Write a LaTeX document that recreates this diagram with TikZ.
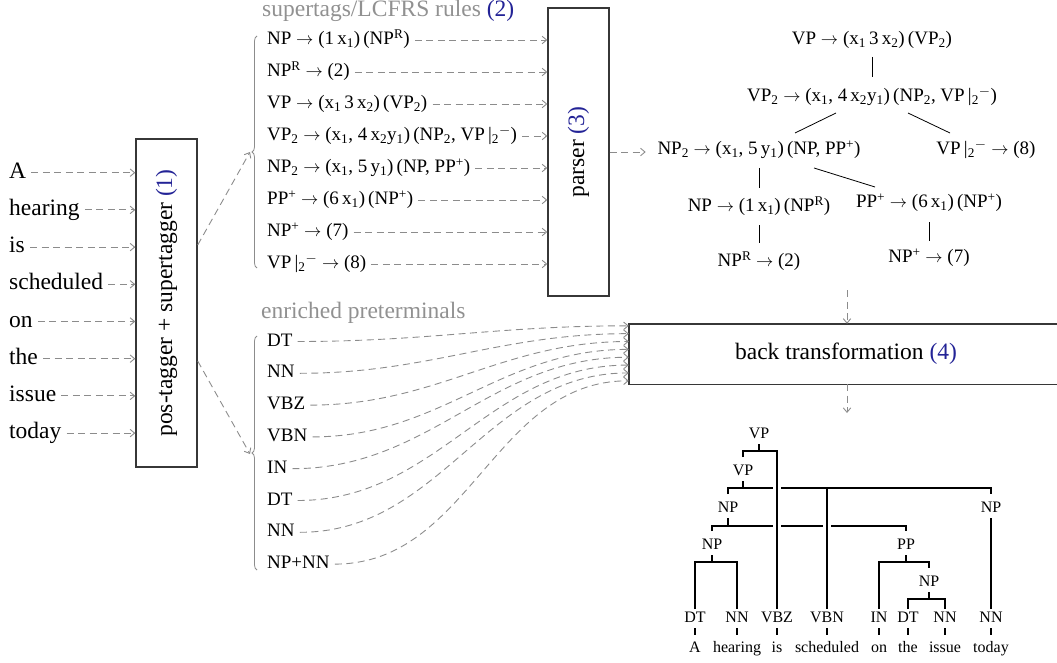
\documentclass[tikz,border=0pt]{standalone}
\usepackage{fontspec}
\usepackage{graphicx}
\setmainfont{Liberation Serif}
\usetikzlibrary{arrows.meta,calc,decorations.pathreplacing}

\definecolor{arrowgray}{RGB}{140,140,140}
\definecolor{headgray}{RGB}{145,145,145}
\definecolor{stepblue}{RGB}{35,35,150}
\definecolor{boxline}{RGB}{55,55,55}

\newcommand\lsub[1]{\textsubscript{#1}}
\newcommand\lsup[1]{\textsuperscript{#1}}
\newcommand\vpbar{VP\,|\lsub{2}\lsup{$-$}}

\begin{document}
\begin{tikzpicture}[x=1pt,y=-1pt,
  big/.style={font=\fontsize{23.5}{28}\selectfont},
  wordnode/.style={big, inner sep=0pt, anchor=west, text height=16pt, text depth=5pt},
  rule/.style={font=\fontsize{19}{23}\selectfont, inner sep=0pt, anchor=west, text height=13pt, text depth=4pt},
  drule/.style={font=\fontsize{19}{23}\selectfont, inner sep=0pt, text height=13pt, text depth=4pt},
  heading/.style={big, text=headgray, inner sep=0pt, anchor=west},
  stagebox/.style={draw=boxline, line width=1.4pt, inner sep=0pt, big},
  boxedge/.style={draw=boxline, line width=1.4pt},
  dasharrow/.style={draw=arrowgray, line width=0.9pt, dash pattern=on 7pt off 4.5pt,
    -{Straight Barb[length=4.5pt,width=7.5pt]}},
  bracedeco/.style={draw=arrowgray, line width=0.8pt, decorate, decoration={brace, amplitude=5pt}},
  derivline/.style={line width=0.8pt},
  tnode/.style={font=\fontsize{16}{19}\selectfont, inner sep=0pt, text height=10.8pt, text depth=0pt},
  tline/.style={line width=1.2pt},
]
\useasboundingbox (0,0) rectangle (1057,663);

% ---------- input sentence and tagger ----------
\foreach \w [count=\i] in {A,hearing,is,scheduled,on,the,issue,today}
  \node[wordnode] (w\i) at (9,{172.7+37.2*(\i-1)}) {\w};

\node[stagebox, minimum width=61pt, minimum height=328pt] (pos) at (166.5,303)
  {\rotatebox{90}{pos-tagger + supertagger \textcolor{stepblue}{(1)}}};

\foreach \i in {1,...,8}
  \draw[dasharrow] ([xshift=5pt]w\i.east) -- (w\i.east -| pos.west);

% ---------- supertags ----------
\node[heading] (h1) at (262,11) {supertags/LCFRS rules \textcolor{stepblue}{(2)}};

\node[rule] (r1) at (267,40)  {NP $\to$ (1\,x\lsub{1})\,(NP\lsup{R})};
\node[rule] (r2) at (267,72)  {NP\lsup{R} $\to$ (2)};
\node[rule] (r3) at (267,104) {VP $\to$ (x\lsub{1}\,3\,x\lsub{2})\,(VP\lsub{2})};
\node[rule] (r4) at (267,136) {VP\lsub{2} $\to$ (x\lsub{1}, 4\,x\lsub{2}y\lsub{1})\,(NP\lsub{2}, \vpbar)};
\node[rule] (r5) at (267,168) {NP\lsub{2} $\to$ (x\lsub{1}, 5\,y\lsub{1})\,(NP, PP\lsup{+})};
\node[rule] (r6) at (267,200) {PP\lsup{+} $\to$ (6\,x\lsub{1})\,(NP\lsup{+})};
\node[rule] (r7) at (267,232) {NP\lsup{+} $\to$ (7)};
\node[rule] (r8) at (267,264) {\vpbar{} $\to$ (8)};

\draw[bracedeco] (257,268) -- (257,36);
\coordinate (tip1) at (250,152);
\draw[dasharrow] ($(pos.east)+(0,-58)$) -- (tip1);

% ---------- parser ----------
\node[stagebox, minimum width=61pt, minimum height=288pt] (parser) at (578.5,152)
  {\rotatebox{90}{parser \textcolor{stepblue}{(3)}}};

\foreach \i in {1,...,8}
  \draw[dasharrow] ([xshift=5pt]r\i.east) -- (r\i.east -| parser.west);

% ---------- derivation ----------
\node[drule] (d1) at (872,40)  {VP $\to$ (x\lsub{1}\,3\,x\lsub{2})\,(VP\lsub{2})};
\node[drule] (d2) at (872,97)  {VP\lsub{2} $\to$ (x\lsub{1}, 4\,x\lsub{2}y\lsub{1})\,(NP\lsub{2}, \vpbar)};
\node[drule] (d3) at (759,150) {NP\lsub{2} $\to$ (x\lsub{1}, 5\,y\lsub{1})\,(NP, PP\lsup{+})};
\node[drule] (d4) at (986,150) {\vpbar{} $\to$ (8)};
\node[drule] (d5) at (759,207) {NP $\to$ (1\,x\lsub{1})\,(NP\lsup{R})};
\node[drule] (d6) at (929,203) {PP\lsup{+} $\to$ (6\,x\lsub{1})\,(NP\lsup{+})};
\node[drule] (d7) at (759,262) {NP\lsup{R} $\to$ (2)};
\node[drule] (d8) at (929,258) {NP\lsup{+} $\to$ (7)};

\draw[derivline] ($(d1)+(0,17)$) -- ($(d2)+(0,-20)$);
\draw[derivline] ($(d2)+(-36,16)$) -- ($(d3)+(36,-17)$);
\draw[derivline] ($(d2)+(36,16)$) -- ($(d4)+(-36,-17)$);
\draw[derivline] ($(d3)+(0,18)$) -- ($(d5)+(0,-19)$);
\draw[derivline] ($(d3)+(55,18)$) -- ($(d6)+(-54,-16)$);
\draw[derivline] ($(d5)+(0,18)$) -- ($(d7)+(0,-19)$);
\draw[derivline] ($(d6)+(0,19)$) -- ($(d8)+(0,-17)$);

\draw[dasharrow] (parser.east) -- ($(parser.east)+(36,0)$);

% ---------- enriched preterminals ----------
\node[heading] (h2) at (261,313) {enriched preterminals};
\foreach \t [count=\i] in {DT,NN,VBZ,VBN,IN,DT,NN,NP+NN}
  \node[rule] (e\i) at (267,{341.5+31.8*(\i-1)}) {\t};

\draw[bracedeco] (257,570) -- (257,336);
\coordinate (tip2) at (250,454);
\draw[dasharrow] ($(pos.east)+(0,58)$) -- (tip2);

% ---------- back transformation (box runs off the right edge) ----------
\node[inner sep=0pt, minimum width=460pt, minimum height=60pt] (back) at (859,354) {};
\draw[boxedge] (back.north east) -- (back.north west) -- (back.south west) -- (back.south east);
\node[big] (backtxt) at (846,354) {back transformation \textcolor{stepblue}{(4)}};

\foreach \i in {1,...,8}
  \draw[dasharrow] ([xshift=5pt]e\i.east) to[out=0,in=180]
    ($(back.north west)+(0,{2+7.86*(\i-1)})$);

\coordinate (dtop) at (847,290);
\draw[dasharrow] (dtop) -- (dtop |- back.north);
\coordinate (tout) at (847,413);
\draw[dasharrow] (back.south -| tout) -- (tout);

% ---------- output tree ----------
\node[tnode] (t0) at (759,433) {VP};
\node[tnode] (t1) at (743,470) {VP};
\node[tnode] (t2) at (728,507) {NP};
\node[tnode] (t3) at (991,507) {NP};
\node[tnode] (t4) at (712,544) {NP};
\node[tnode] (t5) at (906,544) {PP};
\node[tnode] (t6) at (929,581) {NP};

\foreach \p/\w/\x [count=\i] in {DT/A/695,NN/hearing/737,VBZ/is/777,VBN/scheduled/827,
    IN/on/879,DT/the/908,NN/issue/945,NN/today/991} {
  \node[tnode] (p\i) at (\x,617) {\p};
  \node[tnode] (s\i) at (\x,647) {\w};
  \draw[tline] ($(p\i)+(0,11)$) -- ($(p\i)+(0,18)$);
}

% VP (root)
\draw[tline] ($(t0)+(0,11)$) -- ($(t0)+(0,18)$);
\draw[tline] ($(t1)+(0,-13)$) |- ($(t0)+(0,18)$) -| ($(p3)+(0,-8)$);
% VP
\draw[tline] ($(t1)+(0,11)$) -- ($(t1)+(0,18)$);
\draw[tline] ($(t2)+(0,-13)$) |- ($(p3 |- t1)+(-4,18)$);
\draw[tline] ($(p3 |- t1)+(4,18)$) -| ($(t3)+(0,-13)$);
\draw[tline] ($(p4 |- t1)+(0,18)$) -- ($(p4)+(0,-8)$);
% NP over NP and PP
\draw[tline] ($(t2)+(0,11)$) -- ($(t2)+(0,19)$);
\draw[tline] ($(t4)+(0,-13)$) |- ($(p3 |- t2)+(-4,19)$);
\draw[tline] ($(p3 |- t2)+(4,19)$) -- ($(p4 |- t2)+(-4,19)$);
\draw[tline] ($(p4 |- t2)+(4,19)$) -| ($(t5)+(0,-13)$);
% NP over NN (today)
\draw[tline] ($(t3)+(0,11)$) -- ($(p8)+(0,-8)$);
% NP over DT NN
\draw[tline] ($(t4)+(0,11)$) -- ($(t4)+(0,18)$);
\draw[tline] ($(p1)+(0,-8)$) |- ($(t4)+(0,18)$) -| ($(p2)+(0,-8)$);
% PP
\draw[tline] ($(t5)+(0,11)$) -- ($(t5)+(0,18)$);
\draw[tline] ($(p5)+(0,-8)$) |- ($(t5)+(0,18)$) -| ($(t6)+(0,-13)$);
% NP over DT NN
\draw[tline] ($(t6)+(0,11)$) -- ($(t6)+(0,18)$);
\draw[tline] ($(p6)+(0,-8)$) |- ($(t6)+(0,18)$) -| ($(p7)+(0,-8)$);
\end{tikzpicture}
\end{document}
